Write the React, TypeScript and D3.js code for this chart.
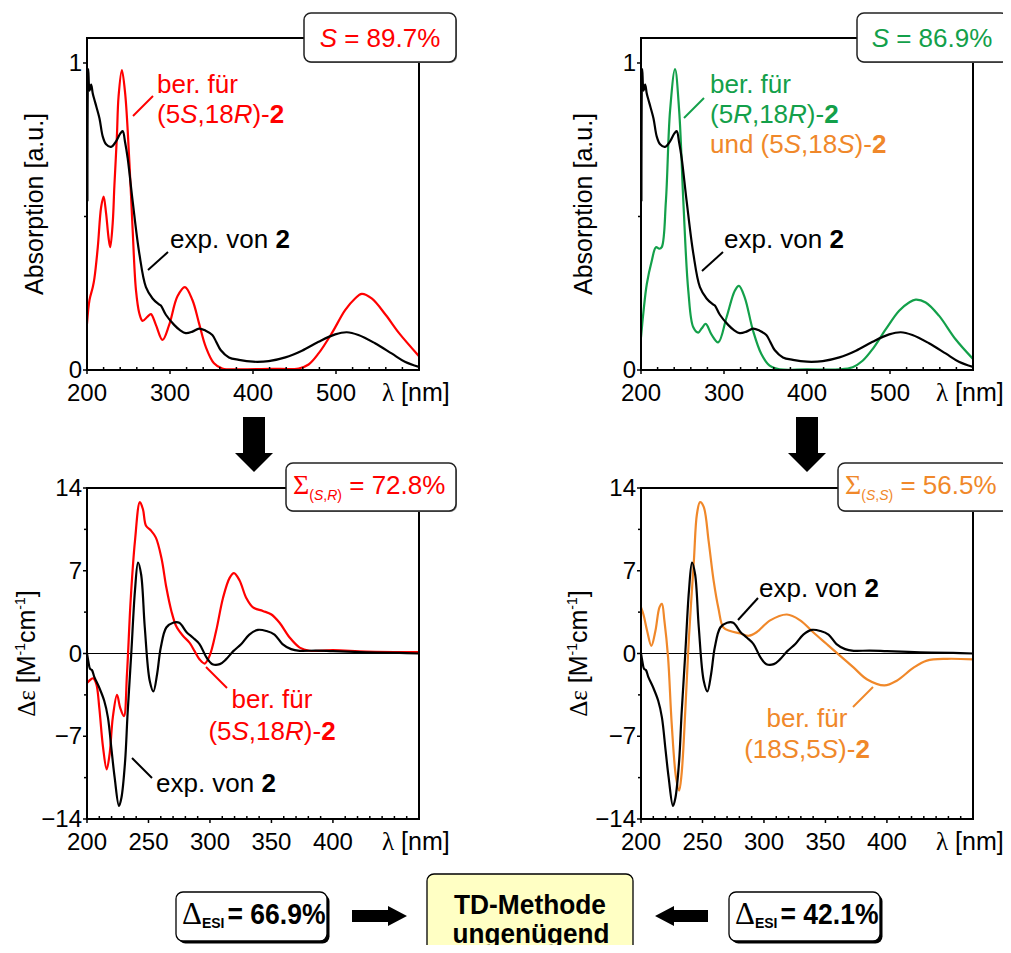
import React from 'react';
import * as d3 from 'd3';

// wavelength [nm], value pairs
const uvExp: [number, number][] = [
  [200.5, 0.55], [201.5, 0.98], [203, 0.91], [205, 0.93], [207, 0.9], [210, 0.87], [215, 0.82],
  [219, 0.76], [223, 0.735], [229, 0.727], [235, 0.745], [240, 0.77], [243, 0.778], [246, 0.74],
  [249, 0.69], [255, 0.55], [263, 0.38], [271, 0.27], [279, 0.233], [286, 0.215], [289, 0.21],
  [295, 0.18], [305, 0.147], [312, 0.13], [319, 0.12], [327, 0.125], [335, 0.135], [343, 0.128],
  [351, 0.114], [356, 0.09], [361, 0.065], [371, 0.041], [383, 0.033], [400, 0.027], [419, 0.029],
  [439, 0.041], [459, 0.063], [479, 0.092], [499, 0.116], [513, 0.123], [527, 0.114], [547, 0.087],
  [567, 0.054], [583, 0.027], [600, 0.01],
];
const uvCalcSR: [number, number][] = [
  [200, 0.15], [203, 0.228], [207, 0.27], [209, 0.3], [213, 0.4], [217, 0.53], [220, 0.565],
  [223, 0.51], [226, 0.43], [228, 0.4], [231, 0.48], [233, 0.6], [236, 0.76], [238, 0.89],
  [242, 0.977], [246, 0.9], [251, 0.68], [255, 0.456], [259, 0.26], [263, 0.185], [267, 0.16],
  [273, 0.174], [277, 0.182], [283, 0.147], [291, 0.098], [299, 0.147], [309, 0.24], [318, 0.27],
  [327, 0.228], [335, 0.152], [343, 0.076], [353, 0.022], [363, 0.005], [383, 0.002], [420, 0.004],
  [455, 0.005], [467, 0.018], [479, 0.054], [495, 0.12], [511, 0.195], [523, 0.233], [531, 0.248],
  [543, 0.233], [560, 0.179], [576, 0.12], [600, 0.045],
];
const uvCalcRR: [number, number][] = [
  [200, 0.106], [203, 0.19], [207, 0.28], [213, 0.356], [218, 0.4], [222, 0.395], [225, 0.4],
  [230, 0.55], [235, 0.844], [241, 0.98], [246, 0.844], [251, 0.55], [257, 0.258], [263, 0.139],
  [269, 0.122], [273, 0.135], [278, 0.15], [285, 0.115], [293, 0.09], [303, 0.171], [313, 0.258],
  [318, 0.274], [325, 0.236], [335, 0.128], [345, 0.052], [355, 0.014], [367, 0.002], [400, 0.002],
  [439, 0.002], [455, 0.009], [467, 0.03], [479, 0.068], [495, 0.133], [511, 0.193], [523, 0.22],
  [531, 0.229], [543, 0.22], [559, 0.177], [579, 0.1], [600, 0.036],
];
const cdExp: [number, number][] = [
  [200, 0], [201, -0.6], [202.5, -1.3], [204, -1.4], [206, -2.0], [210, -2.9], [214, -4.0], [217, -5.4],
  [220, -8.2], [222.5, -10.5], [226, -12.9], [228, -12.2], [231, -9.1], [233, -5.1], [236, 0],
  [239, 5.3], [241.5, 7.7], [244, 6.7], [247, 2.2], [251, -2.3], [254, -3.2], [257, -1.75],
  [260, 0.5], [264.5, 2.2], [270, 2.6], [275, 2.6], [281, 1.8], [286, 1.35], [291.5, 0.8],
  [297, -0.3], [302, -0.9], [308, -0.9], [313, -0.5], [319, 0.2], [325.5, 0.8], [332, 1.6],
  [339, 2.0], [346, 1.9], [352.5, 1.6], [359, 0.8], [366, 0.37], [373, 0.23], [386, 0.25],
  [400, 0.2], [427, 0.1], [454, 0.05], [470, 0],
];
const cdCalcSR: [number, number][] = [
  [200, -2.5], [203, -2.2], [205, -2.1], [207.6, -2.6], [210, -4.6], [213, -7.9], [216, -9.8],
  [218.4, -8.5], [221, -5.4], [224.4, -3.5], [227, -4.6], [230, -5.3], [232.5, -1.75], [235.5, 4.5],
  [239, 9.5], [243, 12.8], [245.5, 12.2], [248, 10.8], [252, 10.4], [256, 9.8], [260.5, 8.1],
  [264.5, 5.6], [268.6, 3.6], [272.6, 2.3], [278, 1.5], [283.5, 0.9], [287.5, 0.2], [291.6, -0.5],
  [295.7, -0.85], [299.7, -0.2], [305, 1.9], [310.6, 4.7], [316, 6.4], [319.5, 6.8], [324, 6.2],
  [329.5, 4.7], [335, 3.9], [343, 3.6], [350, 3.3], [356.6, 2.6], [364.8, 1.35], [373, 0.5],
  [381, 0.23], [400, 0.28], [427, 0.17], [470, 0.12],
];
const cdCalcSS: [number, number][] = [
  [200, 3.9], [202, 3.3], [205, 1.9], [208.4, 0.65], [211.7, 1.9], [215, 3.9], [217, 4.2], [219, 2.8],
  [222, -0.3], [225, -6.0], [228.5, -10.5], [231, -11.6], [233, -10.2], [236, -4.9], [239, 1.35],
  [243, 7.85], [245.5, 11.8], [248, 12.8], [251, 12.4], [255, 9.5], [259, 6.2], [263, 3.8],
  [267, 2.2], [272.6, 1.9], [280.8, 1.7], [287.5, 1.5], [294, 1.8], [305, 2.8], [318.7, 3.3],
  [329.5, 2.8], [340, 1.8], [351, 0.8], [362, -0.2], [373, -1.2], [384, -2.2], [398, -2.7],
  [408, -2.3], [421.7, -1.2], [432.5, -0.6], [448.8, -0.45], [470, -0.5],
];

const uvXTicks = [200, 300, 400, 500];
const uvYTicks = [0, 1];
const cdXTicks = [200, 250, 300, 350, 400];
const cdYTicks = [-14, -7, 0, 7, 14];

const RED = '#ff0000';
const GREEN = '#13a04a';
const ORANGE = '#f0882a';
const SANS = "'Liberation Sans', Arial, Helvetica, sans-serif";
const SERIF = "'Liberation Serif', 'Times New Roman', serif";

type Series = { data: [number, number][]; color: string };

function Panel(props: {
  x0: number; x1: number; top: number; bottom: number;
  xDom: [number, number]; yDom: [number, number];
  xTicks: number[]; xMinorStep: number; yTicks: number[]; yMinorStep: number;
  series: Series[]; zero?: boolean; yTitle: React.ReactNode; titleX: number;
}) {
  const { x0, x1, top, bottom, xDom, yDom, xTicks, xMinorStep, yTicks, yMinorStep, series, zero } = props;
  const x = d3.scaleLinear().domain(xDom).range([x0, x1]);
  const y = d3.scaleLinear().domain(yDom).range([bottom, top]);
  const line = d3.line<[number, number]>()
    .x(d => x(d[0]))
    .y(d => y(d[1]))
    .curve(d3.curveCatmullRom.alpha(0.5));
  const xMinor = d3.range(xDom[0], xDom[1], xMinorStep).filter(v => !xTicks.includes(v));
  const yMinor = d3.range(yDom[0], yDom[1] + 1e-6, yMinorStep).filter(v => !yTicks.includes(v));
  const fmt = (v: number) => (v < 0 ? '\u2212' + Math.abs(v) : String(v));
  const clipId = `clip-${x0}-${top}`;
  return (
    <g>
      <defs>
        <clipPath id={clipId}>
          <rect x={x0} y={top} width={x1 - x0} height={bottom - top} />
        </clipPath>
      </defs>
      {zero && <line x1={x0} x2={x1} y1={y(0)} y2={y(0)} stroke="#000" strokeWidth={1.2} />}
      <g clipPath={`url(#${clipId})`}>
        {series.map((s, i) => (
          <path key={i} d={line(s.data) || ''} fill="none" stroke={s.color} strokeWidth={2.2} strokeLinejoin="round" />
        ))}
      </g>
      <rect x={x0} y={top} width={x1 - x0} height={bottom - top} fill="none" stroke="#000" strokeWidth={2} />
      {xTicks.map(v => (
        <g key={'xt' + v}>
          <line x1={x(v)} x2={x(v)} y1={bottom} y2={bottom + 4} stroke="#000" strokeWidth={1.5} />
          <text x={x(v)} y={bottom + 31} textAnchor="middle" fontSize={24} fontFamily={SANS}>{v}</text>
        </g>
      ))}
      {xMinor.map(v => (
        <line key={'xm' + v} x1={x(v)} x2={x(v)} y1={bottom} y2={bottom - 3} stroke="#000" strokeWidth={1.5} />
      ))}
      {yTicks.map(v => (
        <g key={'yt' + v}>
          <line x1={x0} x2={x0 - 4} y1={y(v)} y2={y(v)} stroke="#000" strokeWidth={1.5} />
          <text x={x0 - 5} y={y(v)} dy="0.34em" textAnchor="end" fontSize={24} fontFamily={SANS}>{fmt(v)}</text>
        </g>
      ))}
      {yMinor.map(v => (
        <line key={'ym' + v} x1={x0} x2={x0 - 3} y1={y(v)} y2={y(v)} stroke="#000" strokeWidth={1.5} />
      ))}
      <text x={x1 - 37} y={bottom + 31} fontSize={25} fontFamily={SANS}>
        <tspan fontFamily={SERIF}>λ</tspan> [nm]
      </text>
      <text transform={`translate(${props.titleX},${(top + bottom) / 2}) rotate(-90)`} textAnchor="middle" fontSize={25} fontFamily={SANS}>
        {props.yTitle}
      </text>
    </g>
  );
}

function LabelBox(props: { x: number; y: number; w: number; h: number; children: React.ReactNode }) {
  return (
    <g>
      <rect x={props.x + 1} y={props.y + 1} width={props.w} height={props.h} rx={7} fill="#888" />
      <rect x={props.x} y={props.y} width={props.w} height={props.h} rx={7} fill="#fff" stroke="#222" strokeWidth={1.5} />
      {props.children}
    </g>
  );
}

function DownArrow({ cx, y0 }: { cx: number; y0: number }) {
  const p = d3.path();
  p.moveTo(cx - 11, y0);
  p.lineTo(cx + 11, y0);
  p.lineTo(cx + 11, y0 + 36);
  p.lineTo(cx + 19, y0 + 36);
  p.lineTo(cx, y0 + 55);
  p.lineTo(cx - 19, y0 + 36);
  p.lineTo(cx - 11, y0 + 36);
  p.closePath();
  return <path d={p.toString()} fill="#000" />;
}

function SideArrow({ x0, x1, cy }: { x0: number; x1: number; cy: number }) {
  // points from x0 (tail) to x1 (tip)
  const dir = Math.sign(x1 - x0);
  const hb = x1 - dir * 19;
  const p = d3.path();
  p.moveTo(x0, cy - 6);
  p.lineTo(hb, cy - 6);
  p.lineTo(hb, cy - 10);
  p.lineTo(x1, cy);
  p.lineTo(hb, cy + 10);
  p.lineTo(hb, cy + 6);
  p.lineTo(x0, cy + 6);
  p.closePath();
  return <path d={p.toString()} fill="#000" />;
}

function EsiBox({ x, value }: { x: number; value: string }) {
  return (
    <g>
      <rect x={x + 2.5} y={894.5} width={151} height={49} rx={7} fill="#000" />
      <rect x={x} y={892} width={151} height={49} rx={7} fill="#fff" stroke="#000" strokeWidth={1.3} />
      <text x={x + 6} y={924} fontSize={29} fontFamily={SANS} fontWeight="bold">
        <tspan fontFamily={SERIF} fontWeight="normal" fontSize={31}>Δ</tspan>
        <tspan fontSize={14} dy={4}>ESI</tspan>
        <tspan dy={-4} dx={3} textLength={98} lengthAdjust="spacingAndGlyphs">= {value}</tspan>
      </text>
    </g>
  );
}

export default function App() {
  const ann = { fontSize: 26, fontFamily: SANS };
  const absTitle = 'Absorption [a.u.]';
  const cdTitle = (
    <>
      <tspan fontFamily={SERIF}>Δε</tspan> [M<tspan fontSize={14} dy={-10}>-1</tspan>
      <tspan dy={10}>cm</tspan><tspan fontSize={14} dy={-10}>-1</tspan><tspan dy={10}>]</tspan>
    </>
  );
  return (
    <svg width={1011} height={953} style={{ display: 'block', margin: '-8px', background: '#fff' }}>
      <rect width={1011} height={953} fill="#fff" />
      <Panel x0={87} x1={419} top={38} bottom={370} xDom={[200, 600]} yDom={[0, 1.0814]}
        xTicks={uvXTicks} xMinorStep={20} yTicks={uvYTicks} yMinorStep={0.5}
        series={[{ data: uvCalcSR, color: RED }, { data: uvExp, color: '#000' }]}
        yTitle={absTitle} titleX={43} />
      <Panel x0={641} x1={973} top={38} bottom={370} xDom={[200, 600]} yDom={[0, 1.0814]}
        xTicks={uvXTicks} xMinorStep={20} yTicks={uvYTicks} yMinorStep={0.5}
        series={[{ data: uvCalcRR, color: GREEN }, { data: uvExp, color: '#000' }]}
        yTitle={absTitle} titleX={592} />
      <Panel x0={87} x1={419} top={488} bottom={819} xDom={[200, 470]} yDom={[-14, 14]}
        xTicks={cdXTicks} xMinorStep={10} yTicks={cdYTicks} yMinorStep={3.5} zero
        series={[{ data: cdCalcSR, color: RED }, { data: cdExp, color: '#000' }]}
        yTitle={cdTitle} titleX={35} />
      <Panel x0={641} x1={973} top={488} bottom={819} xDom={[200, 470]} yDom={[-14, 14]}
        xTicks={cdXTicks} xMinorStep={10} yTicks={cdYTicks} yMinorStep={3.5} zero
        series={[{ data: cdCalcSS, color: ORANGE }, { data: cdExp, color: '#000' }]}
        yTitle={cdTitle} titleX={587} />

      {/* annotations, top left */}
      <line x1={133} y1={116} x2={153} y2={96} stroke={RED} strokeWidth={2} />
      <text x={157} y={93} fill={RED} {...ann}>ber. für</text>
      <text x={157} y={123} fill={RED} {...ann}>(5<tspan fontStyle="italic">S</tspan>,18<tspan fontStyle="italic">R</tspan>)-<tspan fontWeight="bold">2</tspan></text>
      <line x1={148} y1={270} x2={168} y2={252} stroke="#000" strokeWidth={2} />
      <text x={170} y={248} {...ann}>exp. von <tspan fontWeight="bold">2</tspan></text>

      {/* annotations, top right */}
      <line x1={684} y1={118} x2={704} y2={98} stroke={GREEN} strokeWidth={2} />
      <text x={710} y={93} fill={GREEN} {...ann}>ber. für</text>
      <text x={710} y={123} fill={GREEN} {...ann}>(5<tspan fontStyle="italic">R</tspan>,18<tspan fontStyle="italic">R</tspan>)-<tspan fontWeight="bold">2</tspan></text>
      <text x={710} y={153} fill={ORANGE} {...ann}>und (5<tspan fontStyle="italic">S</tspan>,18<tspan fontStyle="italic">S</tspan>)-<tspan fontWeight="bold">2</tspan></text>
      <line x1={702} y1={271} x2={723} y2={252} stroke="#000" strokeWidth={2} />
      <text x={724} y={248} {...ann}>exp. von <tspan fontWeight="bold">2</tspan></text>

      {/* annotations, bottom left */}
      <line x1={206} y1={667} x2={227} y2={688} stroke={RED} strokeWidth={2} />
      <text x={272} y={708} textAnchor="middle" fill={RED} {...ann}>ber. für</text>
      <text x={272} y={740} textAnchor="middle" fill={RED} {...ann}>(5<tspan fontStyle="italic">S</tspan>,18<tspan fontStyle="italic">R</tspan>)-<tspan fontWeight="bold">2</tspan></text>
      <line x1={132} y1={758} x2={152} y2={778} stroke="#000" strokeWidth={2} />
      <text x={156} y={792} {...ann}>exp. von <tspan fontWeight="bold">2</tspan></text>

      {/* annotations, bottom right */}
      <line x1={738} y1={620} x2={758} y2={598} stroke="#000" strokeWidth={2} />
      <text x={759} y={597} {...ann}>exp. von <tspan fontWeight="bold">2</tspan></text>
      <line x1={853} y1={707} x2={873} y2={687} stroke={ORANGE} strokeWidth={2} />
      <text x={807} y={727} textAnchor="middle" fill={ORANGE} {...ann}>ber. für</text>
      <text x={807} y={758} textAnchor="middle" fill={ORANGE} {...ann}>(18<tspan fontStyle="italic">S</tspan>,5<tspan fontStyle="italic">S</tspan>)-<tspan fontWeight="bold">2</tspan></text>

      {/* similarity boxes */}
      <LabelBox x={304} y={13} w={152} h={49}>
        <text x={380} y={47} textAnchor="middle" fill={RED} fontSize={26} fontFamily={SANS}>
          <tspan fontStyle="italic">S</tspan> = 89.7%
        </text>
      </LabelBox>
      <LabelBox x={857} y={13} w={151} h={49}>
        <text x={932} y={47} textAnchor="middle" fill={GREEN} fontSize={26} fontFamily={SANS}>
          <tspan fontStyle="italic">S</tspan> = 86.9%
        </text>
      </LabelBox>
      <LabelBox x={286} y={463} w={170} h={48}>
        <text x={293} y={494} fill={RED} fontSize={26} fontFamily={SANS}>
          <tspan fontFamily={SERIF} fontSize={28}>Σ</tspan>
          <tspan fontSize={14} dy={6}>(<tspan fontStyle="italic">S</tspan>,<tspan fontStyle="italic">R</tspan>)</tspan>
          <tspan dy={-6}> = 72.8%</tspan>
        </text>
      </LabelBox>
      <LabelBox x={838} y={463} w={170} h={48}>
        <text x={845} y={494} fill={ORANGE} fontSize={26} fontFamily={SANS}>
          <tspan fontFamily={SERIF} fontSize={28}>Σ</tspan>
          <tspan fontSize={14} dy={6}>(<tspan fontStyle="italic">S</tspan>,<tspan fontStyle="italic">S</tspan>)</tspan>
          <tspan dy={-6}> = 56.5%</tspan>
        </text>
      </LabelBox>

      <DownArrow cx={254} y0={417} />
      <DownArrow cx={807} y0={417} />

      {/* bottom row */}
      <EsiBox x={176} value="66.9%" />
      <SideArrow x0={352} x1={407} cy={916} />
      <rect x={427} y={874} width={206} height={90} rx={7} fill="#ffffc4" stroke="#000" strokeWidth={1.3} />
      <text x={530} y={914} textAnchor="middle" fontSize={27} fontWeight="bold" fontFamily={SANS} textLength={152} lengthAdjust="spacingAndGlyphs">TD-Methode</text>
      <text x={531} y={943} textAnchor="middle" fontSize={27} fontWeight="bold" fontFamily={SANS} textLength={157} lengthAdjust="spacingAndGlyphs">ungenügend</text>
      <SideArrow x0={708} x1={655} cy={916} />
      <EsiBox x={729} value="42.1%" />
    </svg>
  );
}
